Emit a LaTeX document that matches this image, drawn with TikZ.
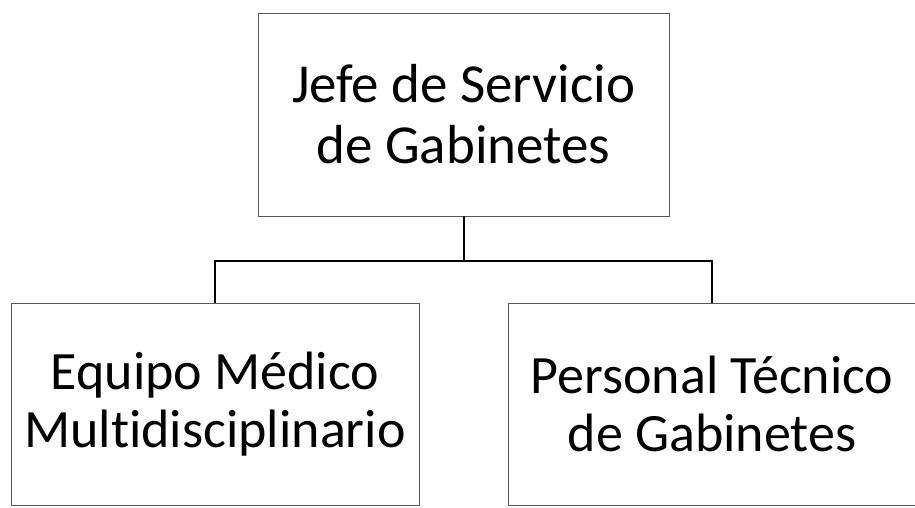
\documentclass[tikz,border=0pt]{standalone}
\usepackage{fontspec}
\setmainfont[Ligatures=NoCommon]{Carlito}

\begin{document}
\begin{tikzpicture}[x=1pt, y=-1pt, line width=1.4pt,
    cargo/.style={draw=black!65, line width=0.6pt, align=center,
      inner sep=0pt, font=\fontsize{54}{58}\selectfont},
    enlace/.style={line width=2pt}]
    \useasboundingbox (0,0) rectangle (915,508);
    \node[cargo, minimum width=411pt, minimum height=203pt,
      font=\fontsize{55}{61}\selectfont] (jefe) at (463.5,114.5)
      {Jefe de Servicio\\de Gabinetes};
    \node[cargo, minimum width=408pt, minimum height=202pt] (equipo) at (215,404)
      {Equipo Médico\\Multidisciplinario};
    \node[cargo, minimum width=408pt, minimum height=202pt] (personal) at (712,404)
      {Personal Técnico\\de Gabinetes};
    \draw[enlace] (jefe.south) -- ++(0,45) -| (equipo.north);
    \draw[enlace] (jefe.south) -- ++(0,45) -| (personal.north);
\end{tikzpicture}
\end{document}
